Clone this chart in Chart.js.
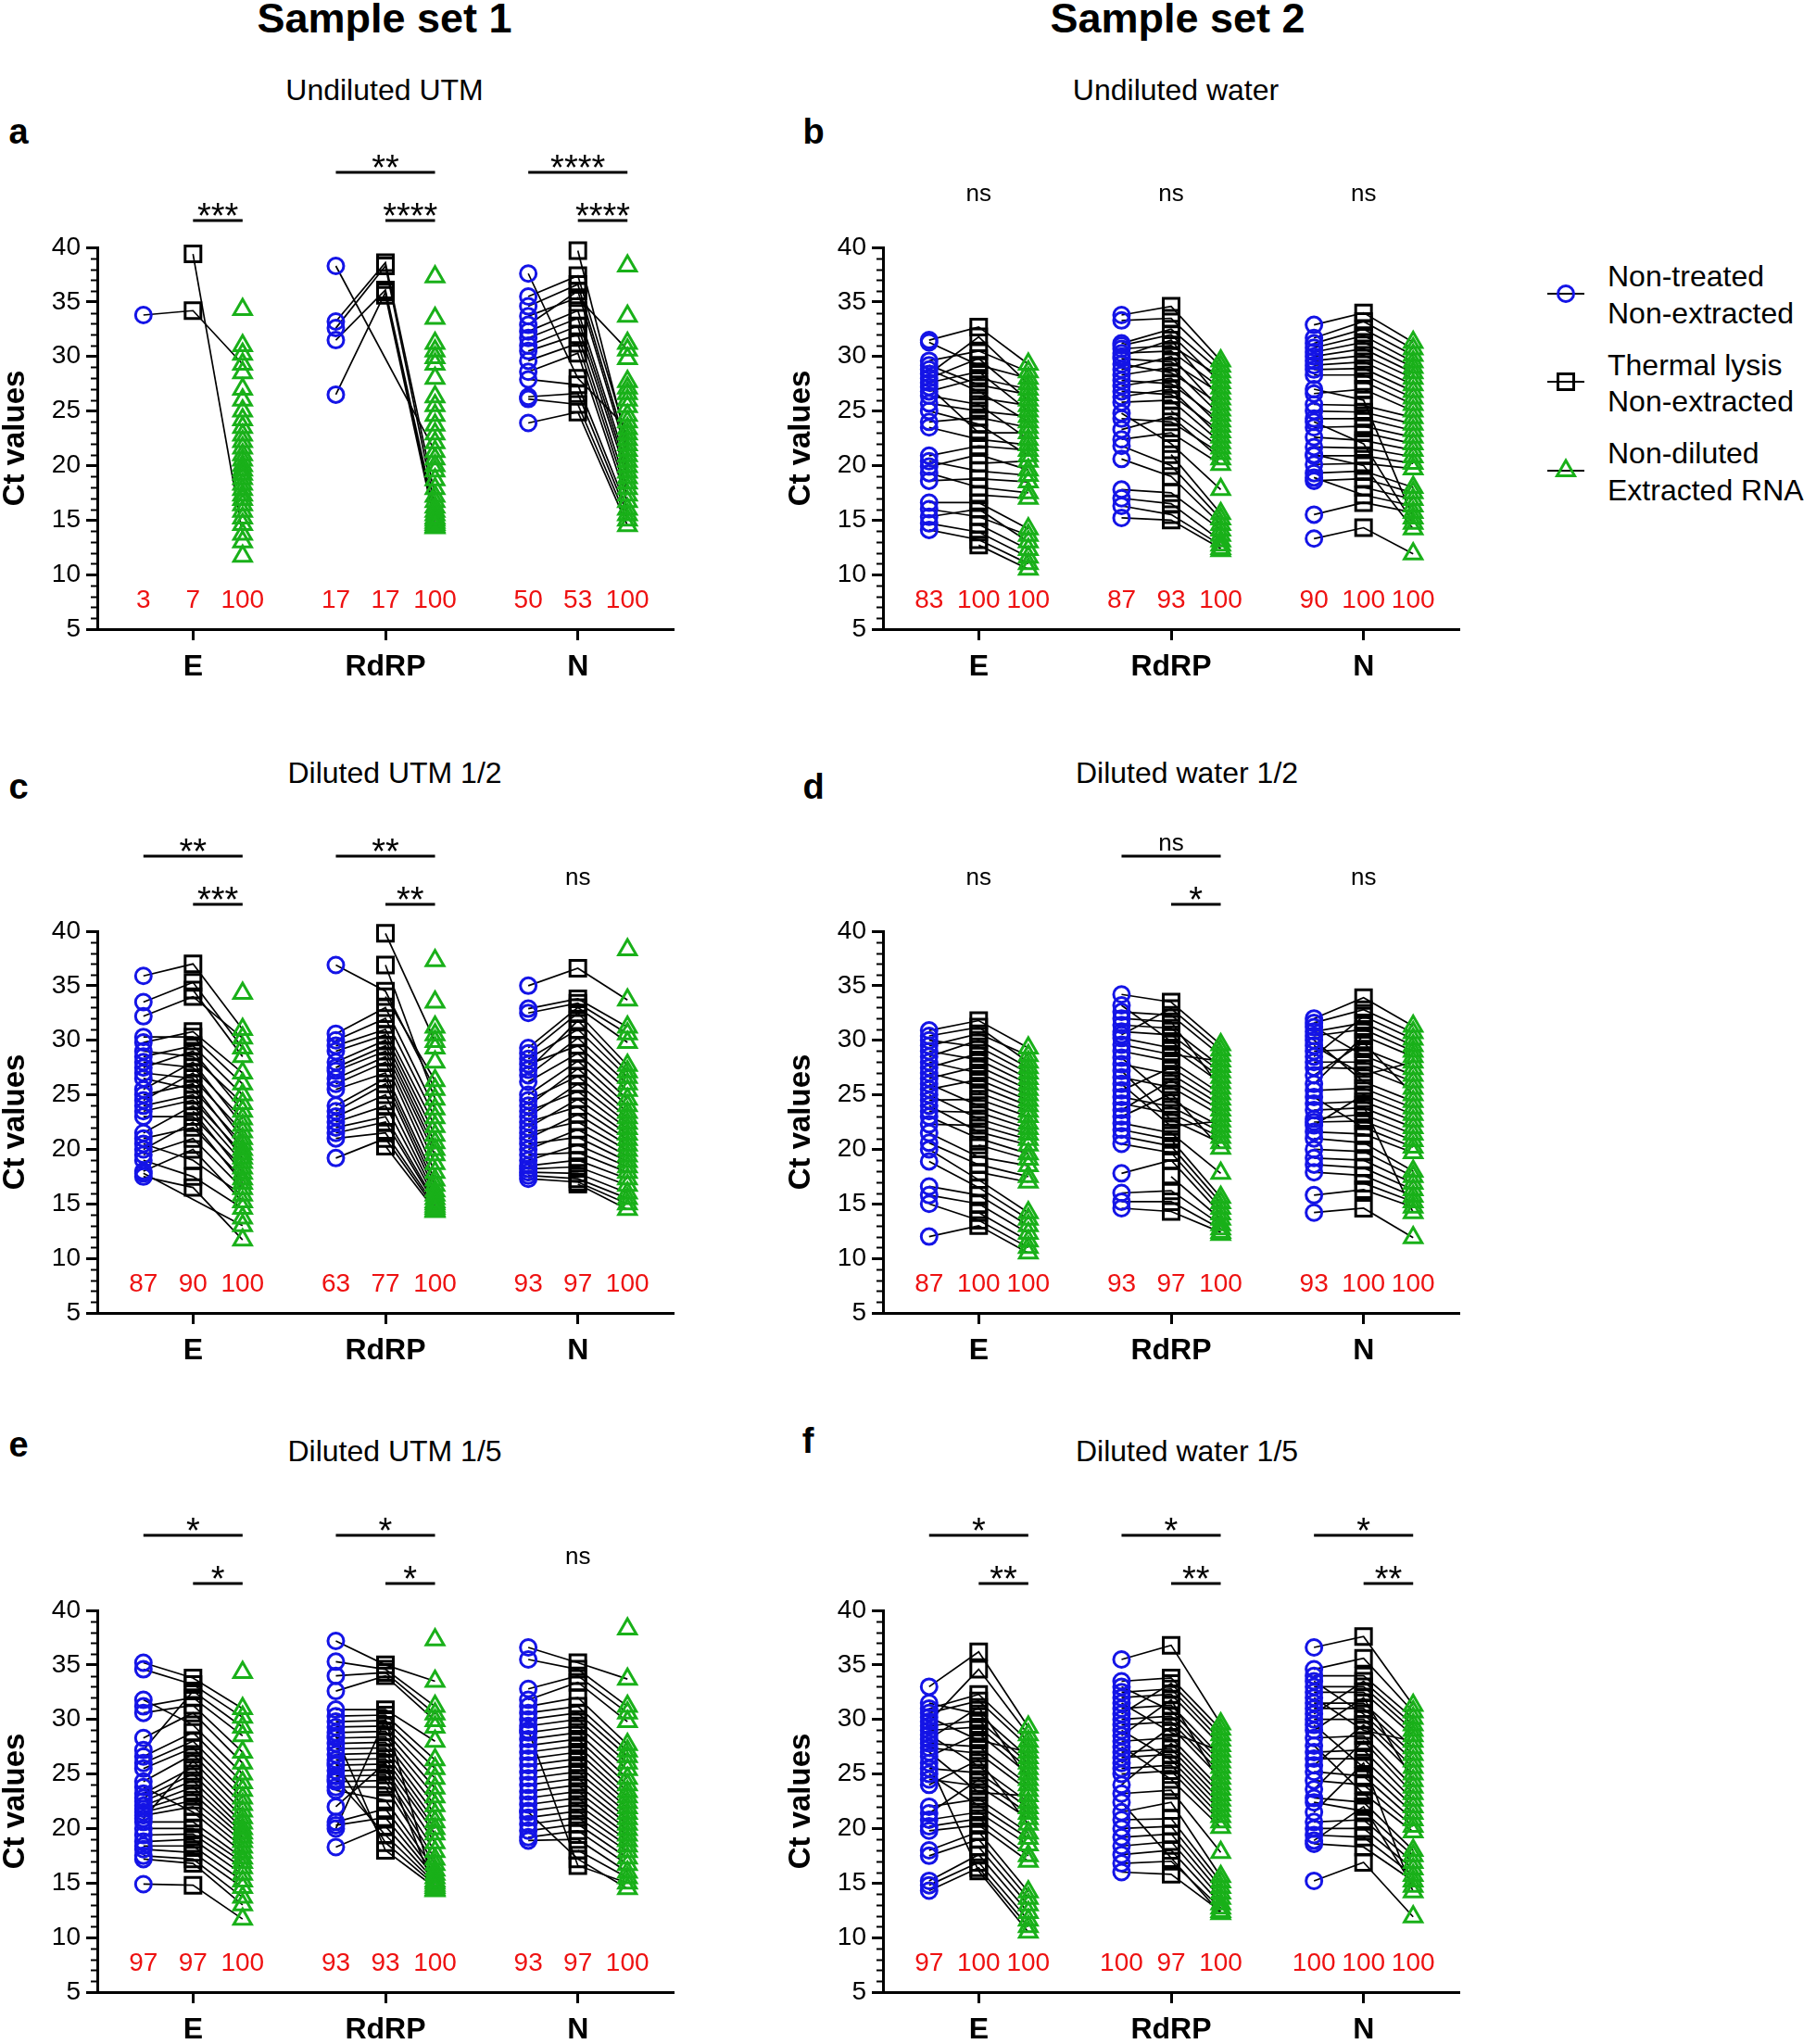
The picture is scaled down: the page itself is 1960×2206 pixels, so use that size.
<!DOCTYPE html>
<html><head><meta charset="utf-8">
<script src="https://cdn.jsdelivr.net/npm/chart.js@4"></script>
<style>
body{margin:0;background:#fff;width:1960px;height:2206px;position:relative;overflow:hidden;font-family:'Liberation Sans',Arial,sans-serif;color:#000;}
.t{position:absolute;transform:translate(-50%,-50%);line-height:1;white-space:nowrap;}
.l{position:absolute;transform:translateY(-50%);line-height:1;white-space:nowrap;font-size:32px;}
canvas{position:absolute;}
</style></head><body>
<div class="t" style="left:415px;top:19px;font-size:45px;font-weight:bold">Sample set 1</div>
<div class="t" style="left:1271px;top:19px;font-size:45px;font-weight:bold">Sample set 2</div>
<div class="t" style="left:415px;top:97px;font-size:32px">Undiluted UTM</div>
<div class="t" style="left:1269px;top:97px;font-size:32px">Undiluted water</div>
<div class="t" style="left:426px;top:834px;font-size:32px">Diluted UTM 1/2</div>
<div class="t" style="left:1281px;top:834px;font-size:32px">Diluted water 1/2</div>
<div class="t" style="left:426px;top:1566px;font-size:32px">Diluted UTM 1/5</div>
<div class="t" style="left:1281px;top:1566px;font-size:32px">Diluted water 1/5</div>
<div class="t" style="left:20px;top:142px;font-size:38px;font-weight:bold">a</div>
<div class="t" style="left:878px;top:142px;font-size:38px;font-weight:bold">b</div>
<div class="t" style="left:20px;top:849px;font-size:38px;font-weight:bold">c</div>
<div class="t" style="left:878px;top:849px;font-size:38px;font-weight:bold">d</div>
<div class="t" style="left:20px;top:1559px;font-size:38px;font-weight:bold">e</div>
<div class="t" style="left:872px;top:1555px;font-size:38px;font-weight:bold">f</div>

<svg style="position:absolute;left:1660px;top:290px" width="60" height="250">
 <line x1="10" y1="27" x2="50" y2="27" stroke="#000" stroke-width="2"/>
 <circle cx="30" cy="27" r="8.5" fill="none" stroke="#1414e6" stroke-width="3"/>
 <line x1="10" y1="122" x2="50" y2="122" stroke="#000" stroke-width="2"/>
 <rect x="21.5" y="113.5" width="17" height="17" fill="none" stroke="#000" stroke-width="3"/>
 <line x1="10" y1="218" x2="50" y2="218" stroke="#000" stroke-width="2"/>
 <polygon points="30,207 39.5,223.5 20.5,223.5" fill="none" stroke="#19b019" stroke-width="3"/>
</svg>
<div class="l" style="left:1735px;top:298px">Non-treated</div>
<div class="l" style="left:1735px;top:338px">Non-extracted</div>
<div class="l" style="left:1735px;top:394px">Thermal lysis</div>
<div class="l" style="left:1735px;top:433px">Non-extracted</div>
<div class="l" style="left:1735px;top:489px">Non-diluted</div>
<div class="l" style="left:1735px;top:529px">Extracted RNA</div>

<canvas id="ca" width="760" height="598" style="left:0px;top:142px"></canvas>
<canvas id="cb" width="760" height="598" style="left:848px;top:142px"></canvas>
<canvas id="cc" width="760" height="598" style="left:0px;top:880px"></canvas>
<canvas id="cd" width="760" height="598" style="left:848px;top:880px"></canvas>
<canvas id="ce" width="760" height="598" style="left:0px;top:1613px"></canvas>
<canvas id="cf" width="760" height="598" style="left:848px;top:1613px"></canvas>

<script>
const _ = null;
const GENES = ['E', 'RdRP', 'N'];

// ---- Non-diluted extracted RNA (green), shared by all panels of a sample set ----
const s1GreenE = [34.3,31.0,30.2,29.3,28.5,27.0,26.0,25.0,24.2,23.5, 22.8,22.2,21.6,21.0,20.5,20.0,19.6,19.2,18.8,18.3, 17.8,17.3,16.9,16.4,15.8,15.2,14.6,13.7,13.0,11.7];
const s1GreenRdRP = [37.3,33.5,31.2,30.5,29.9,29.3,28.0,26.3,25.5,24.6, 23.7,22.9,22.1,21.3,20.6,20.0,19.5,18.7,17.9,17.2, 16.7,16.2,15.8,15.5,15.2,15.0,14.8,14.6,14.4,14.3];
const s1GreenN = [38.3,33.7,31.2,30.6,29.8,27.7,27.1,26.6,26.0,25.4, 24.6,24.0,23.4,22.9,22.4,21.9,21.4,20.9,20.4,19.9, 19.4,18.9,18.4,17.9,17.3,16.7,16.0,15.5,15.0,14.5];
const s2GreenE = [29.3,28.6,28.0,27.5,27.0,26.5,26.0,25.5,25.0,24.5, 24.0,23.5,23.0,22.4,21.9,21.4,20.9,20.4,19.6,19.1, 18.5,17.5,17.0,14.2,13.6,13.0,12.3,11.6,11.0,10.5];
const s2GreenRdRP = [29.6,29.1,28.6,28.1,27.6,27.1,26.6,26.1,25.6,25.1, 24.6,24.1,23.6,23.1,22.6,22.1,21.6,21.1,20.6,20.1, 17.8,15.6,15.1,14.6,14.1,13.6,13.1,12.7,12.4,12.2];
const s2GreenN = [31.3,30.7,30.1,29.5,29.0,28.5,28.0,27.4,26.8,26.2, 25.6,25.0,24.4,23.8,23.2,22.6,22.0,21.4,20.8,20.2, 19.7,18.0,17.5,16.9,16.3,15.7,15.2,14.7,14.2,11.9];

// ---- Panel a: Undiluted UTM ----
const aBlueE = [_,_,_,33.8,_,_,_,_,_,_, _,_,_,_,_,_,_,_,_,_, _,_,_,_,_,_,_,_,_,_];
const aBlackE = [_,_,_,34.2,_,_,_,_,_,_, _,_,_,_,_,_,_,_,_,_, _,_,_,_,_,_,_,39.4,_,_];
const aBlueRdRP = [_,_,_,_,_,_,_,_,_,_, _,_,_,38.3,_,_,_,_,_,33.2, _,32.6,_,31.5,_,26.5,_,_,_,_];
const aBlackRdRP = [_,_,_,_,_,_,_,_,_,_, _,_,_,_,_,_,_,_,_,38.6, _,38.3,_,36.1,_,35.9,_,35.6,_,_];
const aBlueN = [_,_,_,33.7,_,_,_,_,_,_, _,_,37.6,_,35.5,_,34.6,32.9,_,32.3, 31.7,31.0,_,30.5,29.6,28.6,27.9,26.3,26.1,23.9];
const aBlackN = [_,_,_,35.4,_,_,_,_,_,_, _,_,28.0,_,37.4,39.7,36.6,36.0,_,34.2, 33.5,32.8,_,32.0,31.2,30.3,27.4,26.6,25.6,24.9];
const aPct = [3,7,100, 17,17,100, 50,53,100];
const aSig = [[0,'short','***'],[1,'long','**'],[1,'short','****'],[2,'long','****'],[2,'short','****']];

// ---- Panel b: Undiluted water ----
const bBlueE = [31.5,29.6,31.3,28.4,26.8,29.2,28.0,_,27.6,25.7, 28.8,24.0,27.2,26.4,23.5,20.9,25.0,_,19.9,20.4, 18.6,19.3,_,16.6,16.0,15.3,_,14.7,14.1,_];
const bBlackE = [32.7,30.5,29.2,31.8,28.0,27.4,29.8,26.2,28.6,25.0, 26.8,24.4,23.0,25.6,22.4,21.8,23.8,20.2,21.0,19.5, 18.8,18.0,17.3,16.6,15.3,16.0,14.6,13.9,13.2,12.7];
const bBlueRdRP = [33.8,33.3,31.2,30.7,31.0,30.3,29.8,30.0,29.3,28.8, 28.3,27.8,27.3,26.8,26.3,25.8,_,24.3,23.3,22.4, 24.8,_,21.8,20.6,17.8,_,17.0,16.3,15.2,_];
const bBlackRdRP = [34.6,33.5,32.5,31.0,32.0,30.5,29.5,31.5,28.5,30.0, 29.0,27.5,28.0,26.5,27.0,26.0,25.0,24.0,24.5,23.0, 22.0,21.0,20.0,19.0,17.5,_,16.5,15.5,15.0,_];
const bBlueN = [32.9,31.7,31.2,30.8,30.4,30.0,29.6,29.2,28.8,28.3, _,26.6,25.6,25.0,24.3,23.5,_,22.6,21.7,20.9, 20.1,19.3,18.6,_,18.9,15.5,27.0,24.0,21.0,13.3];
const bBlackN = [34.0,33.2,32.5,31.9,31.3,30.7,30.1,29.5,28.9,28.3, 27.7,27.0,25.5,24.9,24.3,23.6,23.0,22.3,21.6,20.9, 20.2,19.5,18.8,18.0,17.3,16.6,26.0,22.0,20.0,14.3];
const bPct = [83,100,100, 87,93,100, 90,100,100];
const bSig = [[0,'top','ns'],[1,'top','ns'],[2,'top','ns']];

// ---- Panel c: Diluted UTM 1/2 ----
const cBlueE = [_,35.9,32.2,33.5,_,29.8,30.3,28.5,29.0,27.5, 28.0,25.5,27.0,24.5,26.5,25.0,23.5,24.0,21.5,23.0, _,21.0,20.0,19.5,20.5,18.0,19.0,_,17.8,17.5];
const cBlackE = [_,37.0,34.0,35.3,34.6,30.8,30.3,29.5,28.5,29.0, 27.5,28.0,26.5,27.0,25.5,26.0,24.5,25.0,24.0,23.0, 23.5,22.0,22.5,21.0,19.0,20.0,17.5,_,_,16.5];
const cBlueRdRP = [_,_,_,_,_,_,_,_,36.9,_, 30.6,30.0,29.5,29.0,28.0,27.5,27.2,26.5,26.0,25.5, 24.0,23.5,23.0,22.5,22.0,21.5,21.0,19.2,_,_];
const cBlackRdRP = [_,_,_,_,39.8,_,_,34.0,34.5,36.9, 33.0,32.0,31.0,30.5,30.0,29.5,29.0,28.5,28.0,27.0, 26.5,26.0,25.0,24.0,23.0,22.5,21.5,21.0,20.3,_];
const cBlueN = [_,35.0,32.9,32.5,29.3,28.8,27.3,28.3,26.8,27.8, 26.2,25.0,24.0,24.5,23.0,23.5,22.0,22.5,21.0,21.5, 20.0,20.5,19.0,19.5,18.5,18.2,17.9,17.6,17.3,_];
const cBlackN = [_,36.6,33.8,33.4,33.0,32.5,31.8,31.0,30.2,29.5, 28.8,28.1,27.4,26.7,26.0,25.3,24.6,23.9,23.2,22.5, 21.8,21.1,20.4,19.7,19.0,18.4,17.8,17.3,17.0,16.8];
const cPct = [87,90,100, 63,77,100, 93,97,100];
const cSig = [[0,'long','**'],[0,'short','***'],[1,'long','**'],[1,'short','**'],[2,'top','ns']];

// ---- Panel d: Diluted water 1/2 ----
const dBlueE = [30.9,29.5,30.4,28.5,30.0,27.5,29.0,26.5,28.0,25.5, 27.0,_,24.5,26.0,23.5,25.0,22.3,24.0,23.0,_, 21.5,20.6,_,20.0,18.9,16.6,15.8,_,15.0,12.0];
const dBlackE = [31.8,30.6,31.2,30.0,29.4,28.8,28.2,27.6,27.0,26.4, 25.8,25.2,24.6,24.0,23.4,22.8,22.2,21.6,21.0,20.4, 19.3,18.6,17.9,17.2,16.5,15.8,15.0,14.2,13.5,13.0];
const dBlueRdRP = [34.2,30.5,32.6,29.6,31.4,30.8,33.2,30.2,32.0,29.0, 25.4,27.8,23.6,26.6,26.0,28.4,24.8,24.2,27.2,23.0, 22.4,21.8,21.2,20.5,17.8,_,16.0,15.2,14.6,_];
const dBlackRdRP = [33.5,32.9,32.3,28.7,31.1,30.5,29.9,29.3,31.7,28.1, 27.5,26.9,26.3,25.7,22.1,24.5,23.9,23.3,22.7,25.1, 21.5,20.9,20.3,19.7,19.0,17.5,16.2,15.2,14.3,_];
const dBlueN = [32.0,31.6,28.5,30.8,30.4,26.0,29.5,29.0,31.2,28.0, 27.5,26.8,30.0,25.4,22.2,24.2,23.6,22.8,22.5,24.8, 21.6,21.0,20.0,19.2,18.6,17.9,_,15.8,_,14.2];
const dBlackN = [33.9,32.8,32.2,31.6,31.0,30.4,26.8,29.2,28.6,28.0, 27.4,29.8,26.2,25.6,25.0,24.4,23.8,23.2,22.6,22.0, 21.4,20.6,19.8,19.0,18.3,17.6,16.9,16.3,24.0,14.6];
const dPct = [87,100,100, 93,97,100, 93,100,100];
const dSig = [[0,'top','ns'],[1,'long','ns'],[1,'short','*'],[2,'top','ns']];

// ---- Panel e: Diluted UTM 1/5 ----
const eBlueE = [_,35.2,34.6,27.2,31.2,30.6,28.3,31.8,26.6,26.0, 25.5,24.3,20.9,23.2,22.8,22.5,22.1,21.8,21.5,21.2, 23.8,20.6,20.0,19.4,18.8,18.4,18.1,17.5,17.2,14.9];
const eBlackE = [_,33.8,33.2,32.6,32.0,31.3,30.6,29.5,28.8,28.0, 27.4,26.8,26.2,25.6,25.0,24.4,23.8,23.2,22.6,22.0, 21.5,20.6,20.0,19.5,19.0,18.4,17.8,17.2,16.8,14.8];
const eBlueRdRP = [_,37.2,35.3,34.0,32.6,_,30.9,30.3,29.8,29.3, 28.8,28.3,27.8,27.3,26.8,26.3,25.8,25.3,24.8,24.3, 23.8,23.5,20.6,20.3,18.3,24.5,26.0,28.5,20.0,22.0];
const eBlackRdRP = [_,35.0,34.6,34.3,34.0,_,30.9,30.4,29.9,29.4, 28.9,28.4,27.9,27.4,26.9,26.4,25.9,25.4,24.9,24.4, 23.8,22.6,21.8,21.0,20.2,19.4,18.7,18.0,30.0,26.0];
const eBlueN = [_,36.6,35.5,32.8,31.8,31.2,30.6,30.0,29.4,28.8, 28.2,27.6,27.0,26.4,25.8,25.2,24.6,24.0,23.4,22.8, 22.2,21.6,21.0,20.4,19.8,19.2,18.9,_,29.0,21.5];
const eBlackN = [_,35.2,34.6,34.0,33.4,32.0,31.2,30.6,30.0,29.4, 28.8,28.2,27.6,27.0,26.4,25.8,25.2,24.6,24.0,23.4, 22.8,22.2,21.6,21.0,20.4,19.8,19.0,18.0,16.6,17.2];
const ePct = [97,97,100, 93,93,100, 93,97,100];
const eSig = [[0,'long','*'],[0,'short','*'],[1,'long','*'],[1,'short','*'],[2,'top','ns']];

// ---- Panel f: Diluted water 1/5 ----
const fBlueE = [33.0,29.8,31.0,30.6,30.2,31.5,29.4,29.0,26.6,28.2, 27.8,27.4,27.0,28.6,25.5,21.4,24.5,24.0,22.0,25.0, 20.8,20.2,19.8,18.0,17.5,_,15.2,14.8,14.3,26.0];
const fBlackE = [36.2,34.6,32.3,31.7,28.1,30.5,29.9,29.3,28.7,31.1, 27.5,26.9,23.3,25.7,25.1,24.5,23.9,26.3,22.7,22.1, 21.5,20.9,20.3,19.7,19.0,18.3,17.6,16.9,16.4,16.1];
const fBlueRdRP = [35.5,33.5,30.5,32.5,32.0,31.5,31.0,33.0,30.0,29.5, 26.0,28.5,28.0,24.0,27.0,26.5,29.0,25.5,25.0,27.5, 23.2,21.5,20.8,20.0,19.2,18.4,17.6,16.8,16.0,22.4];
const fBlackRdRP = [36.8,33.8,33.3,32.8,32.3,28.8,31.3,30.8,30.3,29.8, 29.3,31.8,28.3,27.8,27.3,26.8,26.3,25.8,25.3,24.5, 23.5,22.4,20.9,20.2,19.5,18.8,18.0,17.0,15.8,_];
const fBlueN = [36.6,34.6,34.0,30.5,33.0,32.5,32.0,31.5,31.0,33.5, 30.0,25.8,29.0,28.3,23.6,27.0,26.4,29.5,25.2,24.4, 27.6,22.8,22.4,20.6,20.0,19.4,18.6,18.9,21.5,15.2];
const fBlackN = [37.6,35.6,34.0,33.5,33.0,32.5,29.0,31.5,31.0,30.5, 30.0,29.5,32.0,28.5,28.0,27.2,26.4,25.6,24.8,24.0, 23.2,22.4,21.6,20.8,20.0,19.2,18.3,22.0,26.0,16.9];
const fPct = [97,100,100, 100,97,100, 100,100,100];
const fSig = [[0,'long','*'],[0,'short','**'],[1,'long','*'],[1,'short','**'],[2,'long','*'],[2,'short','**']];

// ---- layout constants (x positions of gene groups on a linear scale) ----
const GC = [0, 3.88, 7.76];
const X_MIN = -1.93, X_MAX = 9.69;
const PCT_Y = 7.6;
const BLUE = '#1414e6', GREEN = '#19b019', RED = '#ee1111';
const FONT = "'Liberation Sans', Arial, sans-serif";
Chart.defaults.font.family = FONT;
Chart.defaults.color = '#000';

const annot = {
  id: 'annot',
  afterDraw(chart, args, opts) {
    const {ctx, chartArea: ca, scales: {x, y}} = chart;
    ctx.save();
    // minor y ticks
    ctx.strokeStyle = '#000'; ctx.lineWidth = 2;
    for (let v = 5; v <= 40; v++) {
      if (v % 5 === 0) continue;
      const py = Math.round(y.getPixelForValue(v)) + 0.5;
      ctx.beginPath(); ctx.moveTo(ca.left - 7, py); ctx.lineTo(ca.left, py); ctx.stroke();
    }
    // detection percentages
    ctx.fillStyle = RED; ctx.font = '28px ' + FONT;
    ctx.textAlign = 'center'; ctx.textBaseline = 'middle';
    opts.pct.forEach((v, k) => {
      const g = Math.floor(k / 3), j = k % 3;
      ctx.fillText(String(v), x.getPixelForValue(GC[g] + j - 1), y.getPixelForValue(PCT_Y));
    });
    // significance
    ctx.fillStyle = '#000'; ctx.strokeStyle = '#000'; ctx.lineWidth = 3;
    opts.sig.forEach(([g, kind, label]) => {
      const c = GC[g];
      const isNs = label === 'ns';
      if (kind === 'top') {
        ctx.font = '26px ' + FONT; ctx.textBaseline = 'middle';
        ctx.fillText(label, x.getPixelForValue(c), ca.top - 57);
        return;
      }
      const x0 = x.getPixelForValue(kind === 'long' ? c - 1 : c);
      const x1 = x.getPixelForValue(c + 1);
      const yb = ca.top - (kind === 'long' ? 81 : 29);
      ctx.beginPath(); ctx.moveTo(x0, yb); ctx.lineTo(x1, yb); ctx.stroke();
      ctx.textBaseline = 'alphabetic';
      if (isNs) { ctx.font = '26px ' + FONT; ctx.fillText(label, (x0 + x1) / 2, yb - 6); }
      else { ctx.font = '38px ' + FONT; ctx.fillText(label, (x0 + x1) / 2, yb + 8); }
    });
    ctx.restore();
  }
};

function makeChart(id, p) {
  const lines = [], bluePts = [], blackPts = [], greenPts = [];
  for (let g = 0; g < 3; g++) {
    const c = GC[g];
    for (let i = 0; i < p.green[g].length; i++) {
      const seq = [];
      const b = p.blue[g][i], k = p.black[g][i], gr = p.green[g][i];
      if (b != null) { seq.push({x: c - 1, y: b}); bluePts.push({x: c - 1, y: b}); }
      if (k != null) { seq.push({x: c, y: k}); blackPts.push({x: c, y: k}); }
      if (gr != null) { seq.push({x: c + 1, y: gr}); greenPts.push({x: c + 1, y: gr}); }
      if (seq.length > 1) lines.push({data: seq, showLine: true, borderColor: '#000', borderWidth: 1.7,
        pointRadius: 0, pointHoverRadius: 0, tension: 0, fill: false, clip: false, order: 5});
    }
  }
  const mk = (data, style, r, col) => ({data, showLine: false, pointStyle: style, pointRadius: r,
    pointBorderColor: col, pointBackgroundColor: 'rgba(0,0,0,0)', pointBorderWidth: 3, clip: false, order: 1});
  const datasets = [mk(greenPts, 'triangle', 11, GREEN), mk(blackPts, 'rect', 12, '#000'),
    mk(bluePts, 'circle', 8.5, BLUE), ...lines];
  const gridOpt = {drawOnChartArea: false, drawTicks: true, tickLength: 12, tickWidth: 3, tickColor: '#000'};
  const borderOpt = {display: true, width: 3, color: '#000'};
  new Chart(document.getElementById(id), {
    type: 'scatter',
    data: {datasets},
    options: {
      responsive: false, animation: false, events: [], devicePixelRatio: 1,
      layout: {padding: {top: 125, right: 33, left: 0, bottom: 0}},
      plugins: {legend: {display: false}, tooltip: {enabled: false}, annot: {pct: p.pct, sig: p.sig}},
      scales: {
        x: {type: 'linear', min: X_MIN, max: X_MAX,
          afterBuildTicks: s => { s.ticks = GC.map(v => ({value: v})); },
          afterFit: s => { s.height = 61; },
          ticks: {callback: (v, i) => GENES[i], font: {size: 32, weight: 'bold'}, color: '#000', padding: 10,
            autoSkip: false, maxRotation: 0},
          grid: gridOpt, border: borderOpt},
        y: {type: 'linear', min: 5, max: 40,
          afterFit: s => { s.width = 105; },
          ticks: {stepSize: 5, font: {size: 28}, color: '#000', padding: 6},
          grid: gridOpt, border: borderOpt,
          title: {display: true, text: 'Ct values', font: {size: 33, weight: 'bold', lineHeight: 1}, color: '#000', padding: 0}}
      }
    },
    plugins: [annot]
  });
}

makeChart('ca', {blue: [aBlueE, aBlueRdRP, aBlueN], black: [aBlackE, aBlackRdRP, aBlackN], green: [s1GreenE, s1GreenRdRP, s1GreenN], pct: aPct, sig: aSig});
makeChart('cb', {blue: [bBlueE, bBlueRdRP, bBlueN], black: [bBlackE, bBlackRdRP, bBlackN], green: [s2GreenE, s2GreenRdRP, s2GreenN], pct: bPct, sig: bSig});
makeChart('cc', {blue: [cBlueE, cBlueRdRP, cBlueN], black: [cBlackE, cBlackRdRP, cBlackN], green: [s1GreenE, s1GreenRdRP, s1GreenN], pct: cPct, sig: cSig});
makeChart('cd', {blue: [dBlueE, dBlueRdRP, dBlueN], black: [dBlackE, dBlackRdRP, dBlackN], green: [s2GreenE, s2GreenRdRP, s2GreenN], pct: dPct, sig: dSig});
makeChart('ce', {blue: [eBlueE, eBlueRdRP, eBlueN], black: [eBlackE, eBlackRdRP, eBlackN], green: [s1GreenE, s1GreenRdRP, s1GreenN], pct: ePct, sig: eSig});
makeChart('cf', {blue: [fBlueE, fBlueRdRP, fBlueN], black: [fBlackE, fBlackRdRP, fBlackN], green: [s2GreenE, s2GreenRdRP, s2GreenN], pct: fPct, sig: fSig});
</script>
</body></html>
